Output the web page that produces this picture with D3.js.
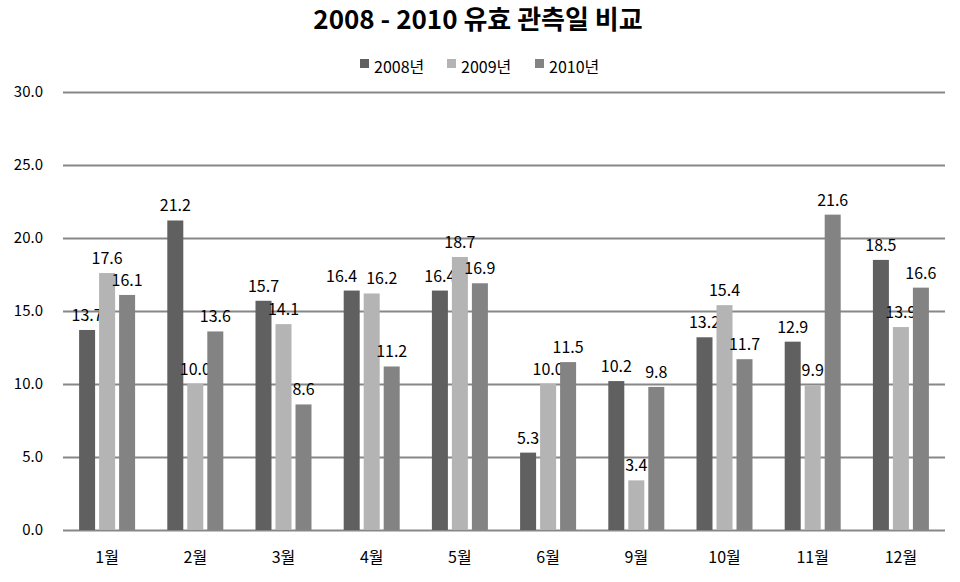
<!DOCTYPE html>
<html><head><meta charset="utf-8">
<script src="https://cdn.jsdelivr.net/npm/d3@7"></script>
<style>body{margin:0;background:#fff}svg{display:block}text{font-family:"Noto Sans CJK KR","Noto Sans",sans-serif}</style>
</head><body><svg id="c" width="960" height="582"></svg>
<script>
const categories = ["1월","2월","3월","4월","5월","6월","9월","10월","11월","12월"];
const seriesNames = ["2008년","2009년","2010년"];
const v2008 = [13.7,21.2,15.7,16.4,16.4,5.3,10.2,13.2,12.9,18.5];
const v2009 = [17.6,10.0,14.1,16.2,18.7,10.0,3.4,15.4,9.9,13.9];
const v2010 = [16.1,13.6,8.6,11.2,16.9,11.5,9.8,11.7,21.6,16.6];
const yTicks = [0,5,10,15,20,25,30];
const colors = ["#606060","#b4b4b4","#838383"];

(function(){
const values = [v2008,v2009,v2010];
const svg = d3.select("#c");
const mLeft = 63, mRight = 945, mTop = 92, mBottom = 530;
const x0 = d3.scaleBand().domain(categories).range([mLeft,mRight]).padding(0);
const x1 = d3.scaleBand().domain(seriesNames).range([-30,30]).paddingInner(0.2).paddingOuter(0.1);
const y = d3.scaleLinear().domain([0,30]).range([mBottom,mTop]);
const color = d3.scaleOrdinal().domain(seriesNames).range(colors);

svg.append("text").attr("x",478).attr("y",29).attr("text-anchor","middle")
  .attr("font-size",26).attr("font-weight","bold").attr("fill","#000").text("2008 - 2010 유효 관측일 비교");

const legX = [360,447,535];
seriesNames.forEach((s,i)=>{
  svg.append("rect").attr("x",legX[i]).attr("y",59).attr("width",9).attr("height",9).attr("fill",color(s));
  svg.append("text").attr("x",legX[i]+14).attr("y",73).attr("font-size",16).attr("fill","#000").text(s);
});

const yAxis = d3.axisLeft(y).tickValues(yTicks).tickFormat(d3.format(".1f")).tickSize(-(mRight-mLeft)).tickPadding(20);
const ga = svg.append("g").attr("transform",`translate(${mLeft},0)`).call(yAxis);
ga.select(".domain").remove();
ga.selectAll(".tick line").attr("stroke","#878787").attr("stroke-width",2);
ga.selectAll(".tick text").attr("font-size",15).attr("fill","#000").attr("font-family","\"Noto Sans CJK KR\",sans-serif");

const groups = svg.append("g").selectAll("g").data(categories).join("g")
  .attr("transform",d=>`translate(${x0(d)+x0.bandwidth()/2},0)`);
groups.each(function(c,ci){
  const g = d3.select(this);
  const labels = [];
  seriesNames.forEach((s,si)=>{
    const v = values[si][ci];
    g.append("rect").attr("x",x1(s)).attr("width",x1.bandwidth())
      .attr("y",y(v)).attr("height",y(0)-y(v)).attr("fill",color(s));
    const t = g.append("text").attr("x",x1(s)+x1.bandwidth()/2).attr("y",y(v)-9)
      .attr("text-anchor","middle").attr("font-size",16).attr("fill","#000").text(v.toFixed(1));
    labels.push({t, cx:x1(s)+x1.bandwidth()/2, y:y(v)-9, w:t.node().getComputedTextLength()});
  });
  // resolve overlaps between adjacent labels at similar heights
  for(let i=0;i<labels.length-1;i++){
    const a=labels[i], b=labels[i+1];
    if(Math.abs(a.y-b.y)<14){
      const need = (a.w+b.w)/2 + 9 - (b.cx-a.cx);
      if(need>0){ a.cx-=need/2; b.cx+=need/2; a.t.attr("x",a.cx); b.t.attr("x",b.cx); }
    }
  }
});

const xAxis = d3.axisBottom(x0).tickSize(0).tickPadding(22);
const gx = svg.append("g").attr("transform",`translate(0,${mBottom})`).call(xAxis);
gx.select(".domain").remove();
gx.selectAll(".tick text").attr("font-size",16).attr("fill","#000").attr("font-family","\"Noto Sans CJK KR\",sans-serif");
})();
</script></body></html>
